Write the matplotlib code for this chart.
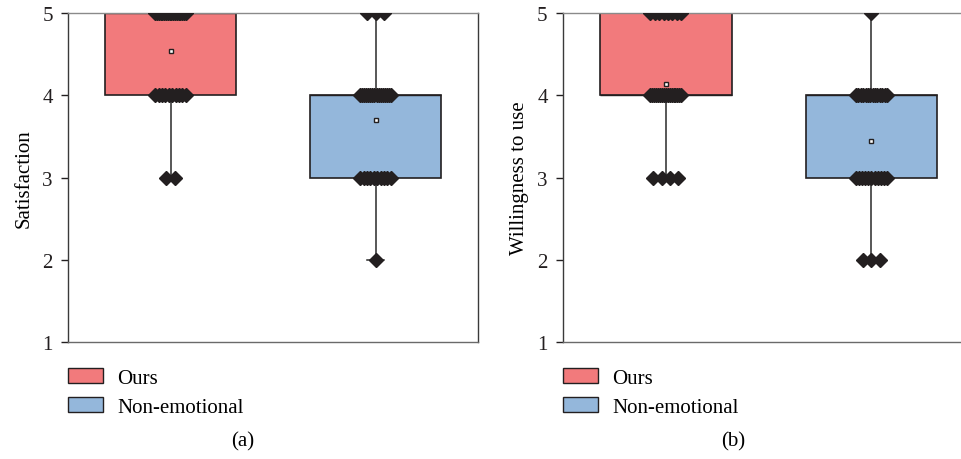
import numpy as np
import matplotlib
matplotlib.use('Agg')
import matplotlib.pyplot as plt
from matplotlib.patches import Patch

plt.rcParams['font.family'] = ['Liberation Serif', 'DejaVu Serif']

groups = ['Ours', 'Non-emotional']
colors = ['#F27A7C', '#94B7DB']
levels = [5, 4, 3, 2, 1]

# number of answers at each score level (5, 4, 3, 2, 1)
sat_ours = [18, 10, 2, 0, 0]
sat_non = [3, 16, 10, 1, 0]
will_ours = [8, 17, 4, 0, 0]
will_non = [1, 14, 11, 3, 0]

panels = [('Satisfaction', sat_ours, sat_non, '(a)'),
          ('Willingness to use', will_ours, will_non, '(b)')]

edge = '#231F20'
fs = 15

fig = plt.figure(figsize=(9.62, 4.60), dpi=100)
ax1 = fig.add_axes([0.0707, 0.2543, 0.4262, 0.7153])
ax2 = fig.add_axes([0.5852, 0.2543, 0.4148, 0.7153])
axes = [ax1, ax2]


def expand(counts):
    vals = []
    for lv, c in zip(levels, counts):
        vals += [lv] * c
    return np.array(vals, dtype=float)


for ax, (ylab, c_ours, c_non, cap) in zip(axes, panels):
    data = [expand(c_ours), expand(c_non)]
    bp = ax.boxplot(data, positions=[1, 2], widths=0.64, patch_artist=True,
                    showmeans=True, showfliers=False, capwidths=0.08,
                    medianprops=dict(color=edge, lw=1),
                    whiskerprops=dict(color='#2a2a2a', lw=1.1),
                    capprops=dict(color='#2a2a2a', lw=1.1),
                    boxprops=dict(edgecolor=edge, lw=1.2),
                    meanprops=dict(marker='s', markersize=3.5, markerfacecolor='white',
                                   markeredgecolor=edge, markeredgewidth=1))
    for patch, col in zip(bp['boxes'], colors):
        patch.set_facecolor(col)

    # diamonds for each answer, spread sideways inside their score level
    for pos, counts in zip([1, 2], [c_ours, c_non]):
        for lv, k in zip(levels, counts):
            if k == 0:
                continue
            half = min(0.075, 0.02 * (k - 1))
            xs = pos + np.linspace(-half, half, k)
            ax.plot(xs, [lv] * k, linestyle='none', marker='D', markersize=7,
                    color=edge, zorder=4)

    ax.set_ylim(1, 5)
    ax.set_yticks([1, 2, 3, 4, 5])
    ax.set_xticks([])
    ax.tick_params(axis='y', direction='out', length=5, width=1, pad=6,
                   labelsize=fs, colors='#231F20')
    ax.set_ylabel(ylab, fontsize=fs, labelpad=6)
    for s in ax.spines.values():
        s.set_color('#3a3a3a')
        s.set_linewidth(1)
    ax.spines['top'].set_color('#8a8a8a')
    ax.spines['bottom'].set_color('#6a6a6a')

    handles = [Patch(facecolor=c, edgecolor=edge, lw=1) for c in colors]
    ax.legend(handles, groups, loc='upper left', bbox_to_anchor=(0, -0.08),
              frameon=False, fontsize=fs, handlelength=1.7, handleheight=0.72,
              handletextpad=0.65, labelspacing=0.45, borderpad=0, borderaxespad=0)

ax1.set_xlim(0.5, 2.5)
ax2.set_xlim(0.5, 2.44)
ax2.spines['right'].set_visible(False)

fig.text(0.2526, 0.039, '(a)', ha='center', va='center', fontsize=fs)
fig.text(0.762, 0.039, '(b)', ha='center', va='center', fontsize=fs)

fig.savefig('out.png', dpi=100)
